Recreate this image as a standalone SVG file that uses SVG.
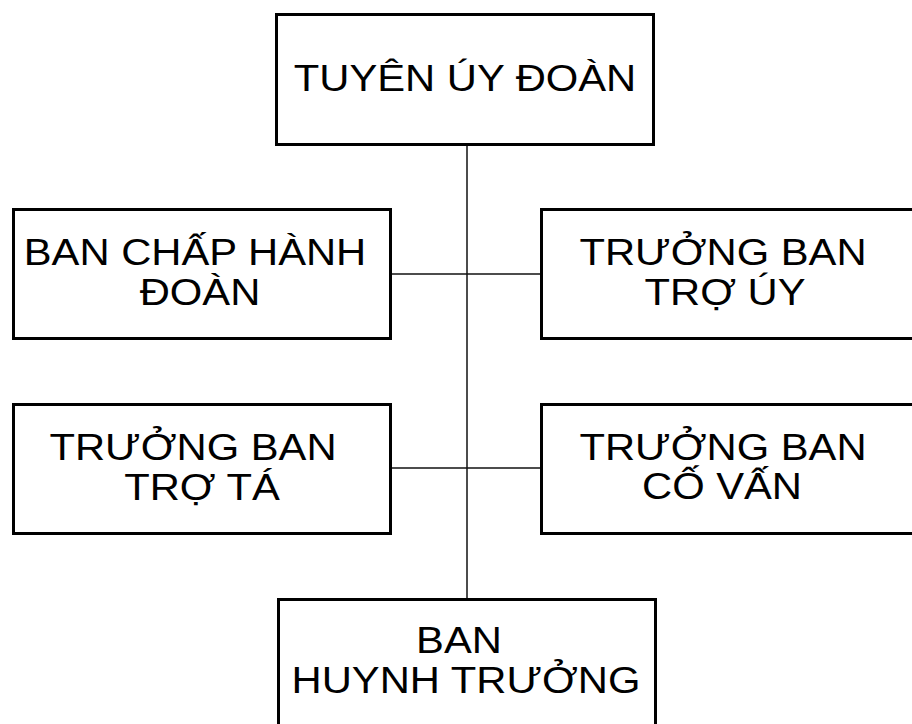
<svg xmlns="http://www.w3.org/2000/svg" width="912" height="724" viewBox="0 0 912 724">
<style>
.box{fill:#fff;stroke:#000;stroke-width:3}
.t{font-family:"Liberation Sans",Arial,sans-serif;font-size:36px;fill:#000;text-anchor:middle}
.c{stroke:#111;stroke-width:1.5;fill:none}
</style>
<rect width="912" height="724" fill="#fff"/>
<g id="connectors">
<line class="c" x1="467" y1="146" x2="467" y2="598"/>
<line class="c" x1="392" y1="274" x2="541" y2="274"/>
<line class="c" x1="392" y1="468" x2="541" y2="468"/>
</g>
<g id="tuyen-uy-doan">
<rect class="box" x="276.5" y="14.5" width="377" height="130"/>
<text class="t" transform="translate(465,91) scale(1.16,1)">TUYÊN ÚY ĐOÀN</text>
</g>
<g id="ban-chap-hanh-doan">
<rect class="box" x="13.5" y="209.5" width="377" height="129"/>
<text class="t" transform="translate(195,265) scale(1.16,1)">BAN CHẤP HÀNH</text>
<text class="t" transform="translate(200,305) scale(1.16,1)">ĐOÀN</text>
</g>
<g id="truong-ban-tro-uy">
<rect class="box" x="541.5" y="209.5" width="377" height="129"/>
<text class="t" transform="translate(723,265) scale(1.16,1)">TRƯỞNG BAN</text>
<text class="t" transform="translate(725,305) scale(1.16,1)">TRỢ ÚY</text>
</g>
<g id="truong-ban-tro-ta">
<rect class="box" x="13.5" y="404.5" width="377" height="129"/>
<text class="t" transform="translate(193,460) scale(1.16,1)">TRƯỞNG BAN</text>
<text class="t" transform="translate(202,500) scale(1.16,1)">TRỢ TÁ</text>
</g>
<g id="truong-ban-co-van">
<rect class="box" x="541.5" y="404.5" width="377" height="129"/>
<text class="t" transform="translate(723,460) scale(1.16,1)">TRƯỞNG BAN</text>
<text class="t" transform="translate(722,499) scale(1.16,1)">CỐ VẤN</text>
</g>
<g id="ban-huynh-truong">
<rect class="box" x="278.5" y="599.5" width="377" height="140"/>
<text class="t" transform="translate(459,653) scale(1.16,1)">BAN</text>
<text class="t" transform="translate(466,693) scale(1.16,1)">HUYNH TRƯỞNG</text>
</g>
</svg>
